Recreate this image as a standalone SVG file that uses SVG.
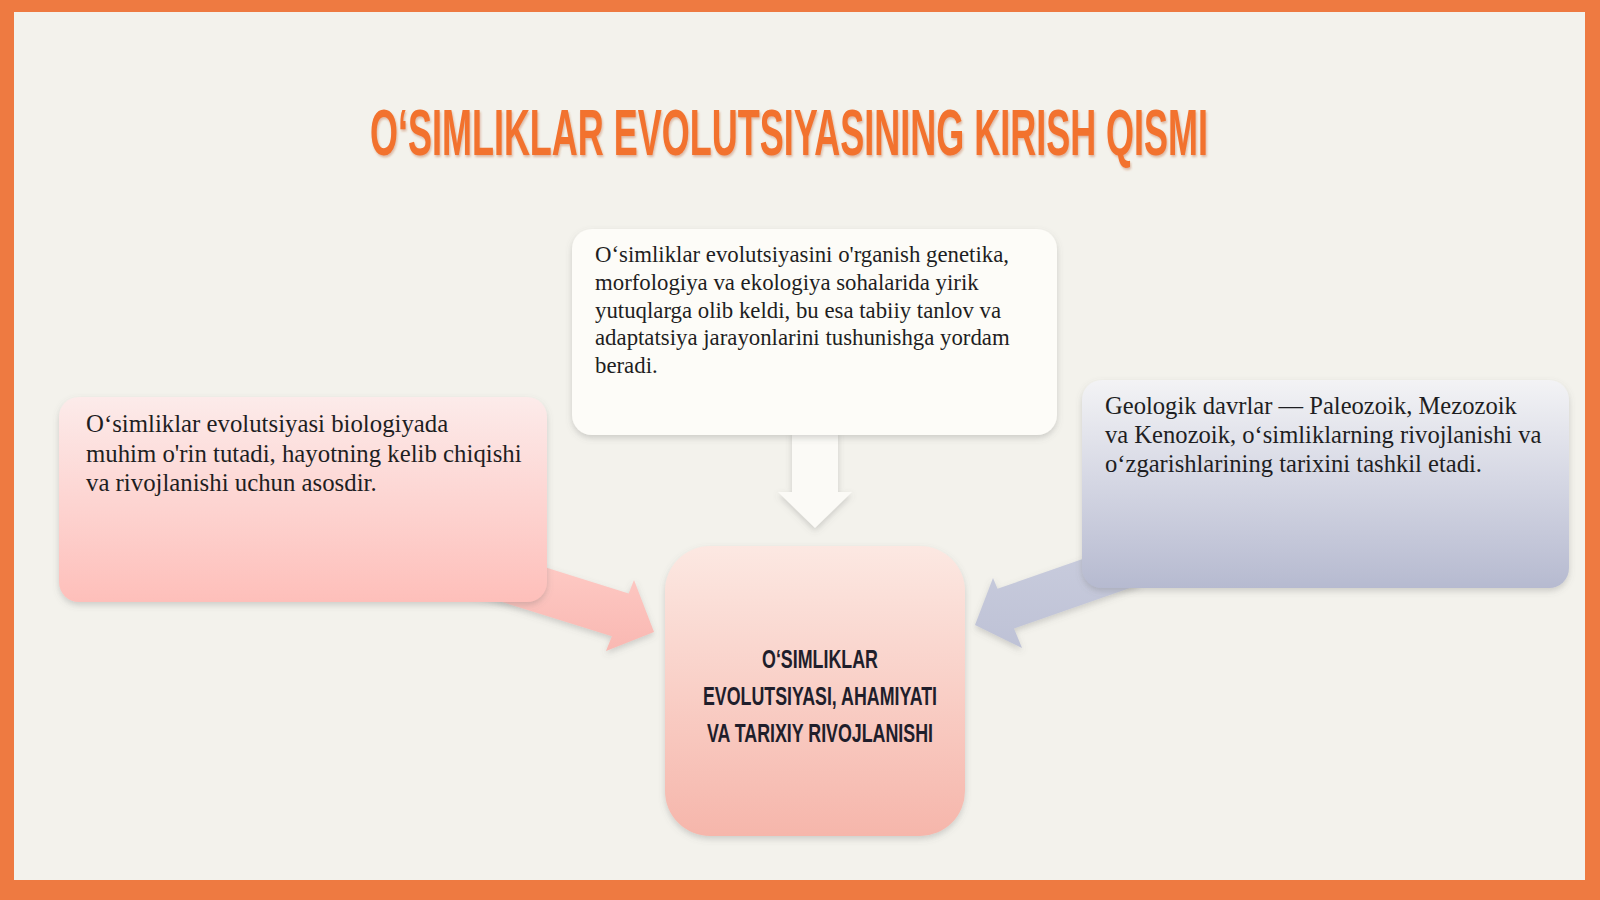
<svg xmlns="http://www.w3.org/2000/svg" width="1600" height="900" viewBox="0 0 1600 900">
<defs>
<linearGradient id="gLeft" x1="0" y1="0" x2="0" y2="1"><stop offset="0" stop-color="#FCEBEA"/><stop offset="1" stop-color="#FEBFBA"/></linearGradient>
<linearGradient id="gRight" x1="0" y1="0" x2="0" y2="1"><stop offset="0" stop-color="#F3F3F5"/><stop offset="0.5" stop-color="#D4D6E3"/><stop offset="1" stop-color="#B6BAD0"/></linearGradient>
<linearGradient id="gCenter" x1="0" y1="0" x2="0" y2="1"><stop offset="0" stop-color="#FCE8E2"/><stop offset="1" stop-color="#F6B6AB"/></linearGradient>
<linearGradient id="gArrL" x1="0" y1="0" x2="0" y2="1"><stop offset="0" stop-color="#FFCDC8"/><stop offset="1" stop-color="#F9B8B2"/></linearGradient>
<linearGradient id="gArrR" x1="0" y1="0" x2="0" y2="1"><stop offset="0" stop-color="#C9CCDD"/><stop offset="1" stop-color="#BEC2D6"/></linearGradient>
<filter id="sh" x="-10%" y="-10%" width="120%" height="130%"><feDropShadow dx="0" dy="3" stdDeviation="3" flood-color="#6B6B6B" flood-opacity="0.28"/></filter>
<filter id="shT" x="-5%" y="-30%" width="110%" height="160%"><feDropShadow dx="1" dy="2" stdDeviation="1.2" flood-color="#B04A1A" flood-opacity="0.35"/></filter>
</defs>
<style>
.body{font-family:"Liberation Serif","Times New Roman",serif;fill:#1E1E22}
.cap{font-family:"Liberation Sans",Arial,sans-serif;font-weight:bold}
</style>
<rect x="0" y="0" width="1600" height="900" fill="#EE7A41"/>
<rect x="14" y="12" width="1571" height="868" fill="#F3F2EC"/>
<g id="title" filter="url(#shT)">
<text class="cap" transform="matrix(0.6,0,0,1,370,155)" x="0" y="0" font-size="64" fill="#F2722F" textLength="1396.7" lengthAdjust="spacingAndGlyphs">O‘SIMLIKLAR EVOLUTSIYASINING KIRISH QISMI</text>
</g>
<g id="connectors">
<polygon points="480,547 628.7,593.4 634,580 654,632 606,651 611.9,636.2 470,592" fill="url(#gArrL)" filter="url(#sh)"/>
<polygon points="1120,546 997.5,588.8 993,578 975,625 1022,648 1014,628.6 1140,584.5" fill="url(#gArrR)" filter="url(#sh)"/>
<polygon points="792,430 838,430 838,492 852,492 815,528 778,492 792,492" fill="#FBFAF6" filter="url(#sh)"/>
</g>
<g id="node-top">
<rect x="572" y="229" width="485" height="206" rx="20" fill="#FDFCF8" filter="url(#sh)"/>
<text class="body" font-size="22.8"><tspan x="595" y="262">O‘simliklar evolutsiyasini o'rganish genetika,</tspan><tspan x="595" y="290">morfologiya va ekologiya sohalarida yirik</tspan><tspan x="595" y="317.5">yutuqlarga olib keldi, bu esa tabiiy tanlov va</tspan><tspan x="595" y="345">adaptatsiya jarayonlarini tushunishga yordam</tspan><tspan x="595" y="372.5">beradi.</tspan></text>
</g>
<g id="node-left">
<rect x="59" y="397" width="488" height="205" rx="20" fill="url(#gLeft)" filter="url(#sh)"/>
<text class="body" font-size="24.8"><tspan x="86" y="432">O‘simliklar evolutsiyasi biologiyada</tspan><tspan x="86" y="461.5">muhim o'rin tutadi, hayotning kelib chiqishi</tspan><tspan x="86" y="491">va rivojlanishi uchun asosdir.</tspan></text>
</g>
<g id="node-right">
<rect x="1082" y="380" width="487" height="208" rx="20" fill="url(#gRight)" filter="url(#sh)"/>
<text class="body" font-size="24.6"><tspan x="1105" y="414">Geologik davrlar — Paleozoik, Mezozoik</tspan><tspan x="1105" y="443">va Kenozoik, o‘simliklarning rivojlanishi va</tspan><tspan x="1105" y="472">o‘zgarishlarining tarixini tashkil etadi.</tspan></text>
</g>
<g id="node-center">
<rect x="665" y="546" width="300" height="290" rx="45" fill="url(#gCenter)" filter="url(#sh)"/>
<g class="cap" font-size="26" fill="#1F1E2B" text-anchor="middle">
<text x="820" y="668" textLength="116" lengthAdjust="spacingAndGlyphs">O‘SIMLIKLAR</text>
<text x="820" y="705" textLength="234" lengthAdjust="spacingAndGlyphs">EVOLUTSIYASI, AHAMIYATI</text>
<text x="820" y="742" textLength="226" lengthAdjust="spacingAndGlyphs">VA TARIXIY RIVOJLANISHI</text>
</g>
</g>
</svg>
